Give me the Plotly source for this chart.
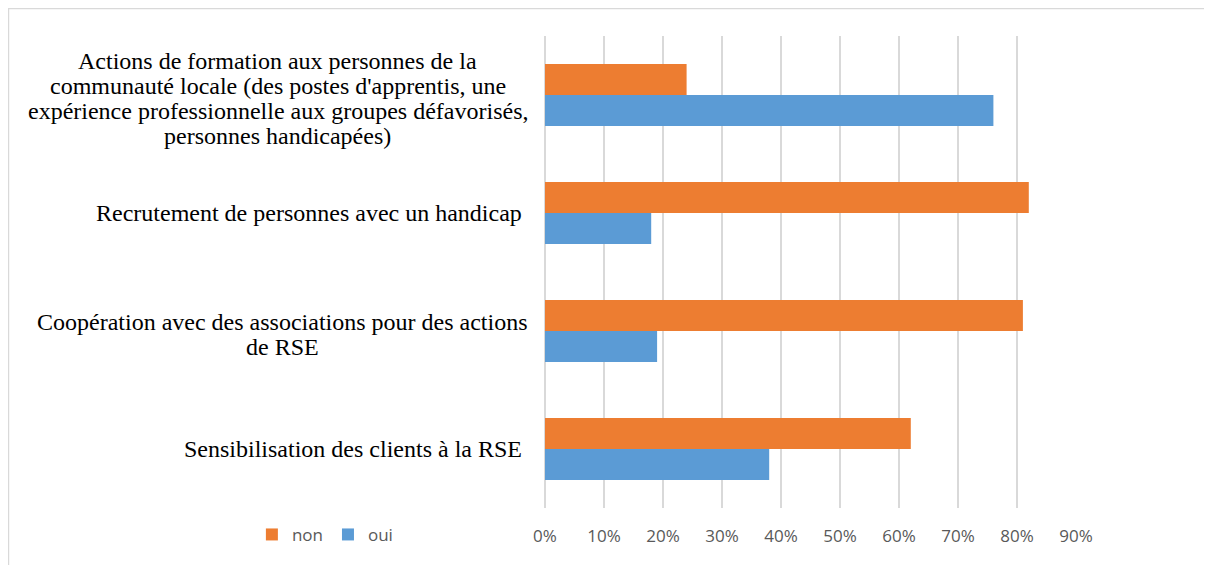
import plotly.graph_objects as go

# Catégories (de haut en bas) et pourcentages
categories = [
    "Actions de formation aux personnes de la<br>communauté locale (des postes d'apprentis, une<br>expérience professionnelle aux groupes défavorisés,<br>personnes handicapées)",
    "Recrutement de personnes avec un handicap ",
    "Coopération avec des associations pour des actions<br>de RSE",
    "Sensibilisation des clients à la RSE ",
]
non_values = [0.24, 0.82, 0.81, 0.62]
oui_values = [0.76, 0.18, 0.19, 0.38]
tick_values = [0, 0.1, 0.2, 0.3, 0.4, 0.5, 0.6, 0.7, 0.8, 0.9]
tick_labels = ["0%", "10%", "20%", "30%", "40%", "50%", "60%", "70%", "80%", "90%"]

ORANGE = "#ED7D31"
BLUE = "#5B9BD5"
GRID = "#d9d9d9"
SERIF = "Liberation Serif, Times New Roman, serif"
SANS = "Open Sans, Calibri, sans-serif"

fig = go.Figure()
fig.add_trace(go.Bar(y=categories, x=non_values, name="non", orientation="h",
                     marker=dict(color=ORANGE, line=dict(width=0))))
fig.add_trace(go.Bar(y=categories, x=oui_values, name="oui", orientation="h",
                     marker=dict(color=BLUE, line=dict(width=0))))

# libellés de catégories : une annotation par ligne (interligne serré),
# les blocs de plusieurs lignes sont centrés sur leur milieu, les autres alignés à droite
LINE_H = 25
block_centers = [-0.503, None, -0.494, None]   # position x (paper) du milieu des blocs multi-lignes
for cat, center in zip(categories, block_centers):
    lines = cat.split("<br>")
    n = len(lines)
    for i, line in enumerate(lines):
        fig.add_annotation(x=-0.028 if center is None else center, xref="paper",
                           y=cat, yref="y", text=line, showarrow=False,
                           xanchor="right" if center is None else "center", yanchor="middle",
                           yshift=-(i - (n - 1) / 2) * LINE_H - (3 if n > 1 else 0),
                           font=dict(family=SERIF, size=24, color="#000000"))

# cadre gris clair de la zone du graphique
fig.add_shape(type="rect", xref="paper", yref="paper", x0=-1.0104, x1=2.0, y0=-1.0, y1=1.0583,
              line=dict(color=GRID, width=1.5), fillcolor="rgba(0,0,0,0)", layer="below")

fig.update_layout(
    width=1204, height=557,
    margin=dict(l=537, r=136, t=28, b=57),
    paper_bgcolor="white", plot_bgcolor="white",
    barmode="group", bargap=0.475, bargroupgap=0,
    showlegend=True,
    legend=dict(orientation="h", x=-0.552, xanchor="left", y=-0.057, yanchor="middle",
                font=dict(family=SANS, size=17, color="#595959"),
                itemwidth=30, tracegroupgap=0, bgcolor="rgba(0,0,0,0)"),
    xaxis=dict(range=[0, 0.9], tickvals=tick_values, ticktext=tick_labels,
               showgrid=True, gridcolor=GRID, gridwidth=2,
               zeroline=True, zerolinecolor=GRID, zerolinewidth=2,
               showline=False, ticks="", ticklabelstandoff=16,
               tickfont=dict(family=SANS, size=17, color="#595959")),
    yaxis=dict(range=[3.5, -0.5], showticklabels=False, showgrid=False,
               zeroline=False, showline=False, ticks=""),
)

fig.write_html("out.html")
